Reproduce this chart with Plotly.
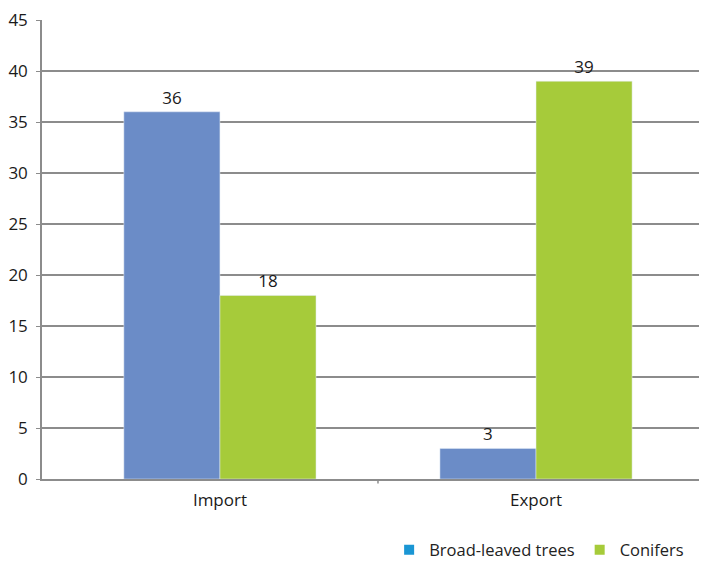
import plotly.graph_objects as go

categories = ["Import", "Export"]
broad_leaved = [36, 3]
conifers = [18, 39]
series_names = ["Broad-leaved trees", "Conifers"]
y_ticks = [0, 5, 10, 15, 20, 25, 30, 35, 40, 45]

bar_blue = "#6b8cc7"
bar_green = "#a6cb3a"
legend_blue = "#1a96d4"
legend_green = "#a6cb3a"
grid = "#8c8c8c"
font_family = "Open Sans, Noto Sans, sans-serif"

fig = go.Figure()
x_pos = list(range(len(categories)))

fig.add_trace(go.Bar(x=x_pos, y=broad_leaved, marker_color=bar_blue, name=series_names[0],
                     text=broad_leaved, textposition="outside", cliponaxis=False,
                     textfont=dict(size=17, color="#1a1a1a"), showlegend=False))
fig.add_trace(go.Bar(x=x_pos, y=conifers, marker_color=bar_green, name=series_names[1],
                     text=conifers, textposition="outside", cliponaxis=False,
                     textfont=dict(size=17, color="#1a1a1a"), showlegend=False))
# legend entries (legend colours differ from bar colours in the reference)
fig.add_trace(go.Scatter(x=[None], y=[None], mode="markers", name=series_names[0],
                         marker=dict(symbol="square", size=10, color=legend_blue)))
fig.add_trace(go.Scatter(x=[None], y=[None], mode="markers", name=series_names[1],
                         marker=dict(symbol="square", size=10, color=legend_green)))

fig.update_layout(
    width=699, height=553,
    margin=dict(l=34, r=0, t=12, b=82, autoexpand=False),
    plot_bgcolor="white", paper_bgcolor="white",
    barmode="group", bargap=0.392, bargroupgap=0,
    font=dict(family=font_family, size=16, color="#1a1a1a"),
    showlegend=True,
    legend=dict(orientation="h", x=0.522, xanchor="left", yref="container", y=0.02,
                yanchor="middle", font=dict(size=16.5, color="#222"), itemwidth=30,
                traceorder="normal"),
    xaxis=dict(range=[-0.563, 1.541], tickvals=x_pos, ticktext=categories,
               showgrid=False, showline=True, linecolor=grid, linewidth=1.5,
               ticks="", zeroline=False, fixedrange=True, tickfont=dict(size=17),
               ticklabelstandoff=5),
    yaxis=dict(range=[0, 45], tickvals=y_ticks, showgrid=True, gridcolor=grid, gridwidth=1.5,
               showline=True, linecolor=grid, linewidth=1.5, ticks="outside", ticklen=4,
               tickcolor=grid, zeroline=False, ticklabelstandoff=5, tickfont=dict(size=17),
               ticklabeloverflow="allow"),
    shapes=[dict(type="line", xref="x", yref="paper", x0=0.5, x1=0.5, y0=0, y1=-0.01,
                 line=dict(color=grid, width=1.5))],
)

fig.write_html("out.html")
